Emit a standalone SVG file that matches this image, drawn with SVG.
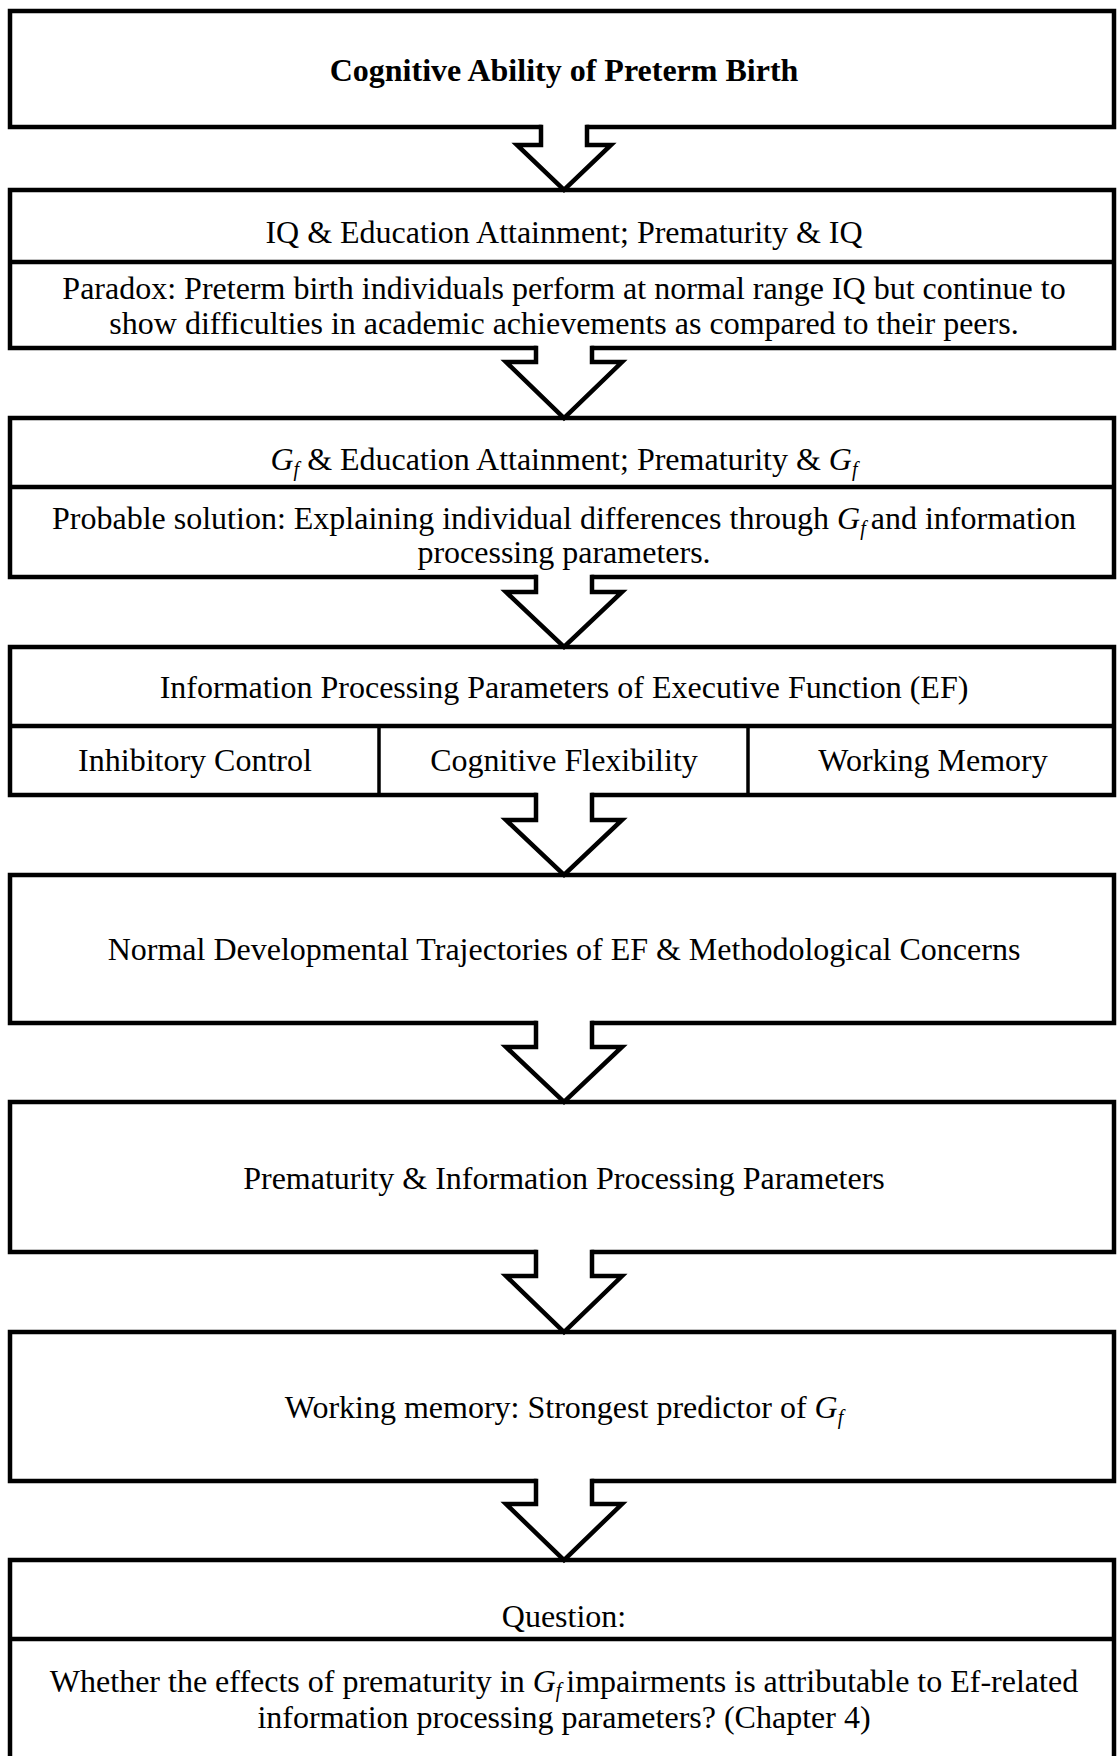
<svg xmlns="http://www.w3.org/2000/svg" width="1117" height="1756" viewBox="0 0 1117 1756">
  <defs>
    <style>
      .box { fill: #ffffff; stroke: #000000; stroke-width: 4.5; }
      .rule { stroke: #000000; stroke-width: 4.5; fill: none; }
      .vrule { stroke: #000000; stroke-width: 3.5; fill: none; }
      .arrow { fill: #ffffff; stroke: #000000; stroke-width: 4.5; stroke-linejoin: miter; stroke-miterlimit: 10; }
      .gap { fill: #ffffff; stroke: none; }
      text { font-family: "Liberation Serif", "Times New Roman", serif; font-size: 32px; fill: #000000; text-anchor: middle; }
      .title { font-weight: bold; }
      .it { font-style: italic; }
      .sub { font-style: italic; font-size: 20px; }
    </style>
  </defs>

  <rect width="1117" height="1756" fill="#ffffff"/>

  <!-- Boxes -->
  <g id="cognitive-ability">
    <rect class="box" x="10" y="11" width="1104" height="116"/>
    <text class="title" x="564" y="81">Cognitive Ability of Preterm Birth</text>
  </g>

  <g id="iq-education">
    <rect class="box" x="10" y="190" width="1104" height="158"/>
    <line class="rule" x1="10" y1="262" x2="1114" y2="262"/>
    <text x="564" y="243">IQ &amp; Education Attainment; Prematurity &amp; IQ</text>
    <text x="564" y="299">Paradox: Preterm birth individuals perform at normal range IQ but continue to</text>
    <text x="564" y="334">show difficulties in academic achievements as compared to their peers.</text>
  </g>

  <g id="gf-education">
    <rect class="box" x="10" y="418" width="1104" height="159"/>
    <line class="rule" x1="10" y1="487" x2="1114" y2="487"/>
    <text x="564" y="470"><tspan class="it">G</tspan><tspan class="sub" dy="6">f</tspan><tspan dy="-6"> &amp; Education Attainment; Prematurity &amp; </tspan><tspan class="it">G</tspan><tspan class="sub" dy="6">f</tspan></text>
    <text x="564" y="529">Probable solution: Explaining individual differences through <tspan class="it">G</tspan><tspan class="sub" dy="6">f </tspan><tspan dy="-6">and information</tspan></text>
    <text x="564" y="563">processing parameters.</text>
  </g>

  <g id="ef-parameters">
    <rect class="box" x="10" y="647" width="1104" height="148"/>
    <line class="rule" x1="10" y1="726" x2="1114" y2="726"/>
    <line class="vrule" x1="379" y1="726" x2="379" y2="795"/>
    <line class="vrule" x1="748" y1="726" x2="748" y2="795"/>
    <text x="564" y="698">Information Processing Parameters of Executive Function (EF)</text>
    <text x="195" y="771">Inhibitory Control</text>
    <text x="564" y="771">Cognitive Flexibility</text>
    <text x="933" y="771">Working Memory</text>
  </g>

  <g id="normal-trajectories">
    <rect class="box" x="10" y="875" width="1104" height="148"/>
    <text x="564" y="960">Normal Developmental Trajectories of EF &amp; Methodological Concerns</text>
  </g>

  <g id="prematurity-parameters">
    <rect class="box" x="10" y="1102" width="1104" height="150"/>
    <text x="564" y="1189">Prematurity &amp; Information Processing Parameters</text>
  </g>

  <g id="working-memory">
    <rect class="box" x="10" y="1332" width="1104" height="149"/>
    <text x="564" y="1418">Working memory: Strongest predictor of <tspan class="it">G</tspan><tspan class="sub" dy="6">f</tspan></text>
  </g>

  <g id="question">
    <rect class="box" x="10" y="1560" width="1104" height="220"/>
    <line class="rule" x1="10" y1="1639" x2="1114" y2="1639"/>
    <text x="564" y="1627">Question:</text>
    <text x="564" y="1692">Whether the effects of prematurity in <tspan class="it">G</tspan><tspan class="sub" dy="5">f </tspan><tspan dy="-5">impairments is attributable to Ef-related</tspan></text>
    <text x="564" y="1728">information processing parameters? (Chapter 4)</text>
  </g>

  <!-- Block arrows between stages; a white patch opens the box edge for each stem -->
  <g id="connectors">
    <rect class="gap" x="542" y="124" width="44" height="5"/>
    <path class="arrow" d="M541,124.75 V145 H517 L564,190 L611,145 H587 V124.75"/>

    <rect class="gap" x="537" y="345" width="54" height="5"/>
    <path class="arrow" d="M536,345.75 V362 H506 L564,418 L622,362 H592 V345.75"/>

    <rect class="gap" x="537" y="574" width="54" height="5"/>
    <path class="arrow" d="M536,574.75 V592 H506 L564,647 L622,592 H592 V574.75"/>

    <rect class="gap" x="537" y="792" width="54" height="5"/>
    <path class="arrow" d="M536,792.75 V820 H506 L564,875 L622,820 H592 V792.75"/>

    <rect class="gap" x="537" y="1020" width="54" height="5"/>
    <path class="arrow" d="M536,1020.75 V1047 H506 L564,1102 L622,1047 H592 V1020.75"/>

    <rect class="gap" x="537" y="1249" width="54" height="5"/>
    <path class="arrow" d="M536,1249.75 V1276 H506 L564,1332 L622,1276 H592 V1249.75"/>

    <rect class="gap" x="537" y="1478" width="54" height="5"/>
    <path class="arrow" d="M536,1478.75 V1504 H506 L564,1560 L622,1504 H592 V1478.75"/>
  </g>
</svg>
